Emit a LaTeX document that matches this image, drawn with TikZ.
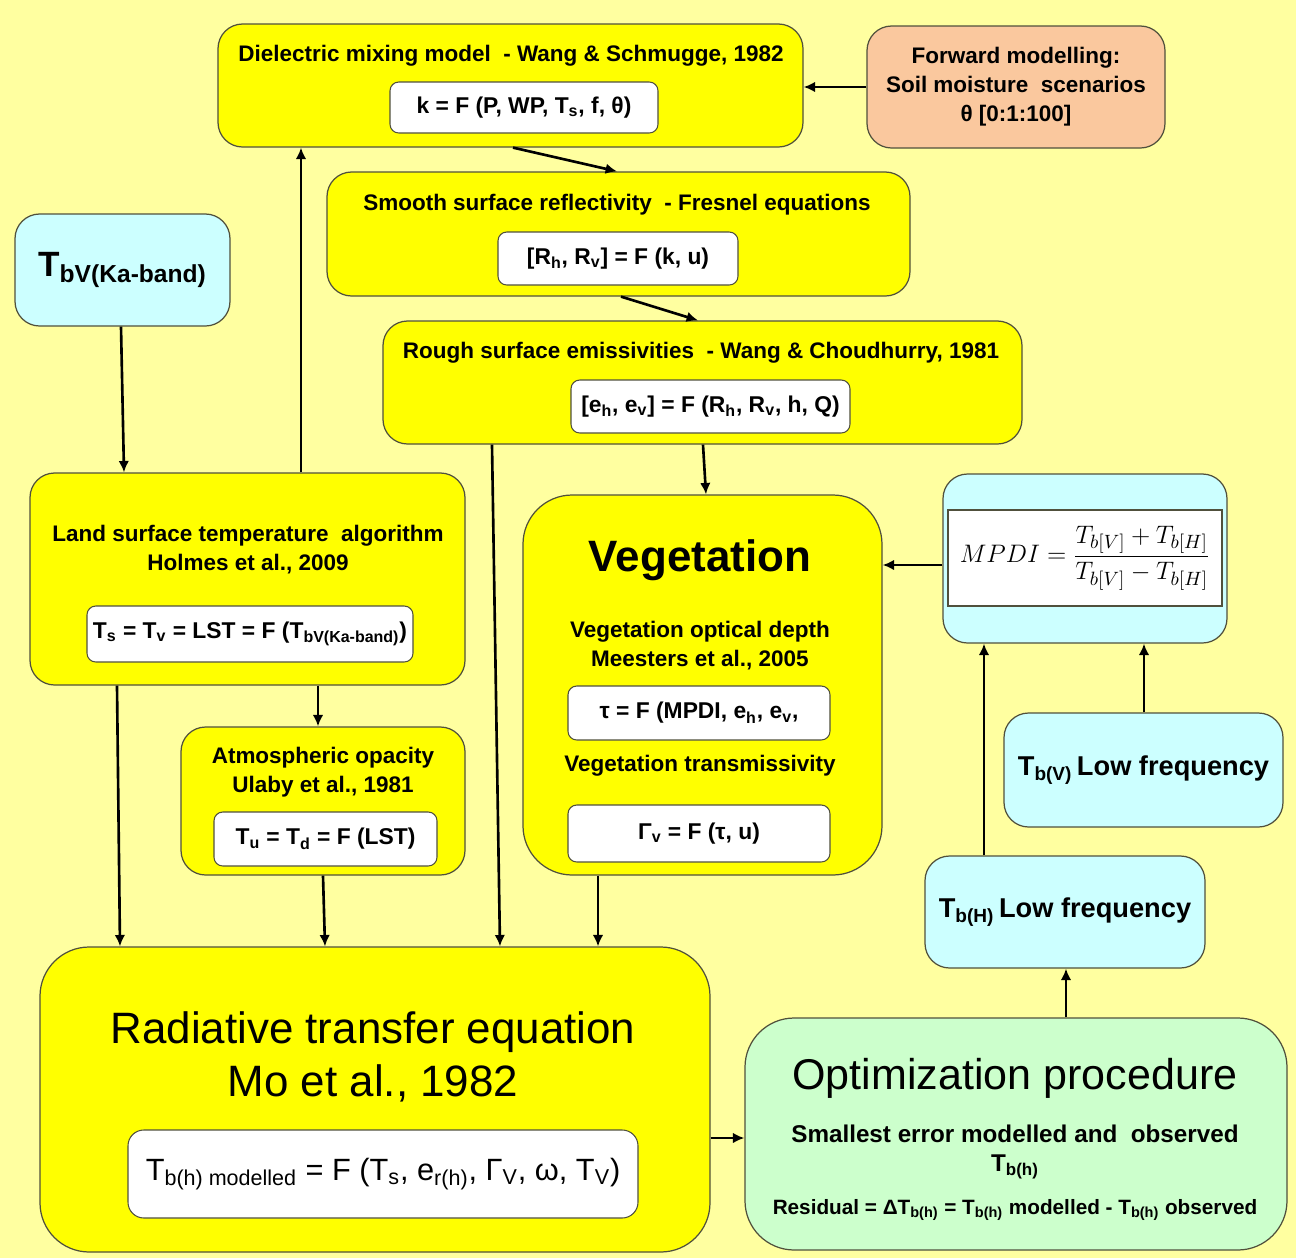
\documentclass[tikz,border=0pt]{standalone}
\usepackage{fontspec}
\setmainfont{Liberation Sans}
\usetikzlibrary{fit,arrows.meta}

\definecolor{bggul}{RGB}{255,255,160}
\definecolor{gul}{RGB}{255,255,0}
\definecolor{lysblaa}{RGB}{204,255,255}
\definecolor{laks}{RGB}{250,200,158}
\definecolor{lysgroen}{RGB}{204,255,204}
\definecolor{kant}{RGB}{80,80,60}

\begin{document}
\begin{tikzpicture}[x=0.02cm,y=-0.02cm,
  boks/.style={draw=kant,line width=0.7pt,rounded corners=14pt,inner sep=0pt},
  hvid/.style={draw=kant,fill=white,line width=0.6pt,rounded corners=5pt,inner sep=0pt},
  hf/.style={font=\bfseries\fontsize{13}{15}\selectfont},
  titel/.style={font=\bfseries\fontsize{12.8}{16.5}\selectfont,align=center},
  stor/.style={font=\fontsize{25}{30}\selectfont,align=center},
  pil/.style={-{Latex[length=6.5pt,width=6pt]},line width=1.5pt}]

  %baggrund
  	\fill[bggul] (0,0) rectangle (1296,1258);

  %dielektrisk model og forward modelling
  	\node[boks,fill=gul,fit={(218,24) (803,147)}] (diel) {};
  	\node[titel] (dieltxt) at (511,56) {Dielectric mixing model \ - Wang \& Schmugge, 1982};
  	\node[hvid,fit={(390,82) (658,133)},label={[hf]center:k = F (P, WP, T\textsubscript{s}, f, θ)}] (kboks) {};
  	\node[boks,fill=laks,fit={(867,26) (1165,148)},
  		label={[titel]center:Forward modelling:\\Soil moisture \ scenarios\\θ [0:1:100]}] (fwd) {};

  %glat overflade
  	\node[boks,fill=gul,fit={(327,172) (910,296)}] (glat) {};
  	\node[titel] (glattxt) at (617,205) {Smooth surface reflectivity \ - Fresnel equations};
  	\node[hvid,fit={(498,232) (738,285)},label={[hf]center:[R\textsubscript{h}, R\textsubscript{v}] = F (k, u)}] (rboks) {};

  %ru overflade
  	\node[boks,fill=gul,fit={(383,321) (1022,444)}] (ru) {};
  	\node[titel] (rutxt) at (701,353) {Rough surface emissivities \ - Wang \& Choudhurry, 1981};
  	\node[hvid,fit={(571,380) (850,433)},
  		label={[hf]center:[e\textsubscript{h}, e\textsubscript{v}] = F (R\textsubscript{h}, R\textsubscript{v}, h, Q)}] (eboks) {};

  %Ka-band
  	\node[boks,fill=lysblaa,fit={(15,214) (230,326)},
  		label={[font=\bfseries\fontsize{20}{24}\selectfont]center:T\textsubscript{bV(Ka-band)}}] (tbv) {};

  %LST
  	\node[boks,fill=gul,fit={(30,473) (465,685)}] (lst) {};
  	\node[titel] (lsttxt) at (248,550) {Land surface temperature \ algorithm\\Holmes et al., 2009};
  	\node[hvid,fit={(87,606) (413,662)},
  		label={[hf]center:T\textsubscript{s} = T\textsubscript{v} = LST = F (T\textsubscript{bV(Ka-band)})}] (lstboks) {};

  %atmosfaere
  	\node[boks,fill=gul,fit={(181,727) (465,875)}] (atm) {};
  	\node[titel] (atmtxt) at (323,772) {Atmospheric opacity\\Ulaby et al., 1981};
  	\node[hvid,fit={(214,812) (437,866)},label={[hf]center:T\textsubscript{u} = T\textsubscript{d} = F (LST)}] (atmboks) {};

  %vegetation
  	\node[boks,fill=gul,rounded corners=28pt,fit={(523,495) (882,875)}] (veg) {};
  	\node[font=\bfseries\fontsize{25}{30}\selectfont] (vegtitel) at (700,560) {Vegetation};
  	\node[titel] (vegtxt) at (700,646) {Vegetation optical depth\\Meesters et al., 2005};
  	\node[hvid,fit={(568,686) (830,740)},label={[hf]center:τ = F (MPDI, e\textsubscript{h}, e\textsubscript{v},}] (tauboks) {};
  	\node[titel] (vegtrans) at (700,766) {Vegetation transmissivity};
  	\node[hvid,fit={(568,805) (830,862)},label={[hf]center:Γ\textsubscript{v} = F (τ, u)}] (gamboks) {};

  %MPDI
  	\node[boks,fill=lysblaa,fit={(943,474) (1227,643)}] (mpdi) {};
  	\node[draw=kant,fill=white,line width=0.8pt,inner sep=0pt,fit={(948,510) (1222,606)},
  		label={[font=\fontsize{15}{18}\selectfont]center:$\displaystyle MPDI = \frac{T_{b[V]}+T_{b[H]}}{T_{b[V]}-T_{b[H]}}$}]
  		(mpdiboks) {};

  %lav frekvens
  	\node[boks,fill=lysblaa,fit={(1004,713) (1283,827)},
  		label={[font=\bfseries\fontsize{15.5}{19}\selectfont]center:T\textsubscript{b(V)}\,Low frequency}] (tbvlav) {};
  	\node[boks,fill=lysblaa,fit={(925,856) (1205,968)},
  		label={[font=\bfseries\fontsize{15.5}{19}\selectfont]center:T\textsubscript{b(H)}\,Low frequency}] (tbhlav) {};

  %RTE
  	\node[boks,fill=gul,rounded corners=28pt,fit={(40,947) (710,1252)}] (rte) {};
  	\node[stor] (rtetxt) at (373,1057) {Radiative transfer equation\\Mo et al., 1982};
  	\node[hvid,rounded corners=9pt,fit={(128,1130) (638,1218)},
  		label={[font=\fontsize{17.5}{21}\selectfont]center:T\textsubscript{b(h) modelled} = F (T\textsubscript{s}, e\textsubscript{r(h)}, Γ\textsubscript{V}, ω, T\textsubscript{V})}]
  		(rteboks) {};

  %optimering
  	\node[boks,fill=lysgroen,rounded corners=28pt,fit={(745,1018) (1287,1250)}] (opt) {};
  	\node[font=\fontsize{24.5}{28}\selectfont] (opttitel) at (1015,1078) {Optimization procedure};
  	\node[font=\bfseries\fontsize{13.8}{16}\selectfont] (opttxt1) at (1015,1134) {Smallest error modelled and \ observed};
  	\node[font=\bfseries\fontsize{13.8}{16}\selectfont] (opttxt2) at (1015,1167) {T\textsubscript{b(h)}};
  	\node[font=\bfseries\fontsize{11.8}{14}\selectfont] (opttxt3) at (1015,1210)
  		{Residual = ΔT\textsubscript{b(h)} = T\textsubscript{b(h)} modelled - T\textsubscript{b(h)} observed};

  %pile
  	\draw[pil] (fwd.west) -- (diel.east |- fwd.west);
  	\draw[pil] (513,0 |- diel.south) -- (617,0 |- glat.north);
  	\draw[pil] (621,0 |- glat.south) -- (698,0 |- ru.north);
  	\draw[pil] (121,0 |- tbv.south) -- (124,0 |- lst.north);
  	\draw[pil] (301,0 |- lst.north) -- (301,0 |- diel.south);
  	\draw[pil] (703,0 |- ru.south) -- (706,0 |- veg.north);
  	\draw[pil] (492,0 |- ru.south) -- (500,0 |- rte.north);
  	\draw[pil] (117,0 |- lst.south) -- (120,0 |- rte.north);
  	\draw[pil] (318,0 |- lst.south) -- (318,0 |- atm.north);
  	\draw[pil] (323,0 |- atm.south) -- (325,0 |- rte.north);
  	\draw[pil] (598,0 |- veg.south) -- (598,0 |- rte.north);
  	\draw[pil] (mpdi.west |- 0,565) -- (veg.east |- 0,565);
  	\draw[pil] (1144,0 |- tbvlav.north) -- (1144,0 |- mpdi.south);
  	\draw[pil] (984,0 |- tbhlav.north) -- (984,0 |- mpdi.south);
  	\draw[pil] (1066,0 |- opt.north) -- (1066,0 |- tbhlav.south);
  	\draw[pil] (rte.east |- 0,1138) -- (opt.west |- 0,1138);
\end{tikzpicture}
\end{document}
